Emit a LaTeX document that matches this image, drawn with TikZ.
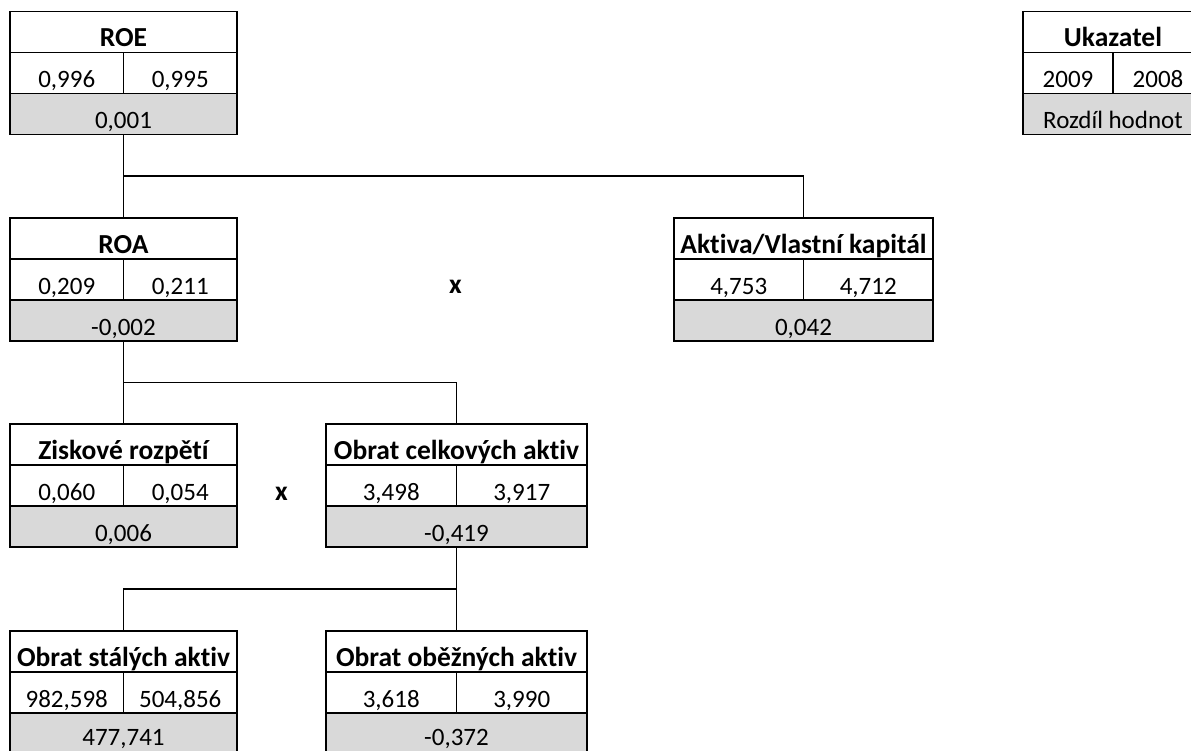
\documentclass[tikz,border=0pt]{standalone}
\usepackage{fontspec}
\setmainfont{Carlito}[Ligatures=NoCommon]
\usepackage{xcolor}
\usetikzlibrary{calc}
\definecolor{cellgray}{RGB}{217,217,217}

\begin{document}
\begin{tikzpicture}[x=1pt, y=-1pt]
      % Define styles
      \tikzset{
        cell/.style={draw, line width=1.8pt, anchor=north west, inner sep=0pt, outer sep=0pt,
          text height=35.5pt, text depth=5.5pt, font=\fontsize{25}{30}\selectfont},
        title/.style={cell, fill=white, font=\fontsize{27.5}{32}\selectfont\bfseries},
        val/.style={cell, fill=white},
        diff/.style={cell, fill=cellgray},
        lastdiff/.style={diff, text height=32pt, text depth=9pt},
        sign/.style={anchor=north, inner sep=0pt, text height=35.5pt, text depth=5.5pt,
          font=\fontsize{27.5}{32}\selectfont\bfseries},
        link/.style={line width=1.8pt}
      }
      \useasboundingbox (0,0) rectangle (1191,751);
      % Legend (top right)
      \node[title, minimum width=180] (leg-t) at (1023,11.5) {Ukazatel};
      \node[val, minimum width=90] (leg-a) at (leg-t.south west) {2009};
      \node[val, minimum width=90] (leg-b) at (leg-a.north east) {2008};
      \node[diff, minimum width=180] (leg-d) at (leg-a.south west) {Rozdíl hodnot};
      % ROE
      \node[title, minimum width=227] (roe-t) at (10,11.5) {ROE};
      \node[val, minimum width=113.5] (roe-a) at (roe-t.south west) {0,996};
      \node[val, minimum width=113.5] (roe-b) at (roe-a.north east) {0,995};
      \node[diff, minimum width=227] (roe-d) at (roe-a.south west) {0,001};
      % ROA
      \node[title, minimum width=227] (roa-t) at (10,218) {ROA};
      \node[val, minimum width=113.5] (roa-a) at (roa-t.south west) {0,209};
      \node[val, minimum width=113.5] (roa-b) at (roa-a.north east) {0,211};
      \node[diff, minimum width=227] (roa-d) at (roa-a.south west) {-0,002};
      % Aktiva/Vlastni kapital
      \node[title, minimum width=259] (akt-t) at (674,218) {Aktiva/Vlastní kapitál};
      \node[val, minimum width=129.5] (akt-a) at (akt-t.south west) {4,753};
      \node[val, minimum width=129.5] (akt-b) at (akt-a.north east) {4,712};
      \node[diff, minimum width=259] (akt-d) at (akt-a.south west) {0,042};
      % Ziskove rozpeti
      \node[title, minimum width=227] (zr-t) at (10,424) {Ziskové rozpětí};
      \node[val, minimum width=113.5] (zr-a) at (zr-t.south west) {0,060};
      \node[val, minimum width=113.5] (zr-b) at (zr-a.north east) {0,054};
      \node[diff, minimum width=227] (zr-d) at (zr-a.south west) {0,006};
      % Obrat celkovych aktiv
      \node[title, minimum width=261] (oca-t) at (326,424) {Obrat celkových aktiv};
      \node[val, minimum width=130.5] (oca-a) at (oca-t.south west) {3,498};
      \node[val, minimum width=130.5] (oca-b) at (oca-a.north east) {3,917};
      \node[diff, minimum width=261] (oca-d) at (oca-a.south west) {-0,419};
      % Obrat stalych aktiv
      \node[title, minimum width=227] (osa-t) at (10,631) {Obrat stálých aktiv};
      \node[val, minimum width=113.5] (osa-a) at (osa-t.south west) {982,598};
      \node[val, minimum width=113.5] (osa-b) at (osa-a.north east) {504,856};
      \node[lastdiff, minimum width=227] (osa-d) at (osa-a.south west) {477,741};
      % Obrat obeznych aktiv
      \node[title, minimum width=261] (ooa-t) at (326,631) {Obrat oběžných aktiv};
      \node[val, minimum width=130.5] (ooa-a) at (ooa-t.south west) {3,618};
      \node[val, minimum width=130.5] (ooa-b) at (ooa-a.north east) {3,990};
      \node[lastdiff, minimum width=261] (ooa-d) at (ooa-a.south west) {-0,372};
      % Multiplication signs
      \node[sign] (mul1) at (455.5,258) {x};
      \node[sign] (mul2) at (281.5,465) {x};
      % Connectors
      \coordinate (j1) at ($(roe-d.south)!0.5!(roa-t.north)$);
      \coordinate (j2) at ($(roa-d.south)!0.5!(zr-t.north)$);
      \coordinate (j3) at ($(oca-d.south)!0.5!(ooa-t.north)$);
      \draw[link] (roe-d.south) -- (roa-t.north);
      \draw[link] (j1) -| (akt-t.north);
      \draw[link] (roa-d.south) -- (zr-t.north);
      \draw[link] (j2) -| (oca-t.north);
      \draw[link] (oca-d.south) -- (ooa-t.north);
      \draw[link] (j3) -| (osa-t.north);
    \end{tikzpicture}
\end{document}
